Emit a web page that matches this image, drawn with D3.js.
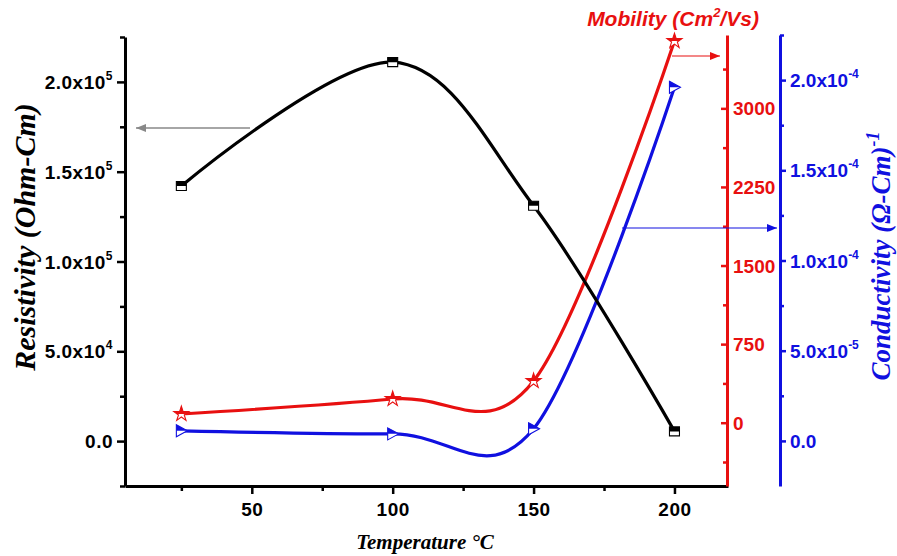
<!DOCTYPE html>
<html><head><meta charset="utf-8">
<script src="https://cdn.jsdelivr.net/npm/d3@7"></script>
<style>body{margin:0;background:#fff}svg{display:block}</style>
</head><body>
<svg id="c" width="897" height="556"></svg>
<script>
// ---- data ----
const temperature = [25, 100, 150, 200];
const resistivity = [142000, 211000, 131000, 5400];
const mobility = [83, 226, 398, 3642];
const conductivity = [5.6e-6, 3.9e-6, 6.7e-6, 1.96e-4];
const xTicks = [50, 100, 150, 200];
const resTicks = [0, 50000, 100000, 150000, 200000];
const resTickLabels = [["0.0", ""], ["5.0x10", "4"], ["1.0x10", "5"], ["1.5x10", "5"], ["2.0x10", "5"]];
const mobTicks = [0, 750, 1500, 2250, 3000];
const condTicks = [0, 5e-5, 1e-4, 1.5e-4, 2e-4];
const condTickLabels = [["0.0", ""], ["5.0x10", "-5"], ["1.0x10", "-4"], ["1.5x10", "-4"], ["2.0x10", "-4"]];

const RED = "#e81010", BLUE = "#1010e0";
const svg = d3.select("#c");
const x = d3.scaleLinear().domain([5, 219]).range([125, 728]);
const yL = d3.scaleLinear().domain([-25000, 225000]).range([486, 37]);
const yR = d3.scaleLinear().domain([-604, 3700]).range([486, 35]);
const yB = d3.scaleLinear().domain([-2.5e-5, 2.25e-4]).range([486, 35]);

const sans = "'Liberation Sans', Arial, sans-serif";
const serif = "'Liberation Serif', 'Times New Roman', serif";
const TF = 19;

const defs = svg.append("defs");
defs.append("clipPath").attr("id", "tophalf").append("rect")
  .attr("x", -20).attr("y", -20).attr("width", 40).attr("height", 20);

// ---- axes ----
const gx = svg.append("g").attr("transform", "translate(0,486)");
gx.call(d3.axisBottom(x).tickValues(xTicks).tickSize(8).tickFormat(d3.format("d")).tickSizeOuter(0));
gx.append("g").call(d3.axisBottom(x).tickValues([25, 75, 125, 175]).tickSize(5).tickFormat("").tickSizeOuter(0))
  .select(".domain").remove();
gx.selectAll(".domain").attr("stroke", "#000").attr("stroke-width", 3);
gx.selectAll("line").attr("stroke", "#000").attr("stroke-width", 2.5);
gx.selectAll("text").attr("font-family", sans).attr("font-weight", "bold").attr("font-size", TF)
  .attr("fill", "#000").attr("y", 30).attr("dy", 0).attr("letter-spacing", 0.5);

const gl = svg.append("g").attr("transform", "translate(125,0)");
gl.call(d3.axisLeft(yL).tickValues(resTicks).tickSize(8).tickFormat("").tickSizeOuter(0));
gl.append("g").call(d3.axisLeft(yL).tickValues([-25000, 25000, 75000, 125000, 175000, 225000]).tickSize(5).tickFormat("").tickSizeOuter(0))
  .select(".domain").remove();
gl.selectAll(".domain").attr("stroke", "#000").attr("stroke-width", 3);
gl.selectAll("line").attr("stroke", "#000").attr("stroke-width", 2.5);
resTicks.forEach((v, i) => {
  const t = gl.append("text").attr("x", -12).attr("y", yL(v) + 7).attr("text-anchor", "end")
    .attr("font-family", sans).attr("font-weight", "bold").attr("font-size", TF).attr("fill", "#000")
    .attr("letter-spacing", 0.5);
  t.append("tspan").text(resTickLabels[i][0]);
  if (resTickLabels[i][1]) t.append("tspan").attr("dy", -9).attr("font-size", 12).text(resTickLabels[i][1]);
});

const gr = svg.append("g").attr("transform", "translate(727,0)");
gr.call(d3.axisLeft(yR).tickValues(mobTicks).tickSize(6).tickFormat("").tickSizeOuter(0));
gr.append("g").call(d3.axisLeft(yR).tickValues([-375, 375, 1125, 1875, 2625, 3375]).tickSize(4).tickFormat("").tickSizeOuter(0))
  .select(".domain").remove();
gr.selectAll(".domain").attr("stroke", RED).attr("stroke-width", 3);
gr.selectAll("line").attr("stroke", RED).attr("stroke-width", 2.5);
mobTicks.forEach(v => {
  gr.append("text").attr("x", 6).attr("y", yR(v) + 7).attr("text-anchor", "start")
    .attr("font-family", sans).attr("font-weight", "bold")
    .attr("font-size", TF).attr("fill", RED).text(v);
});

const gb = svg.append("g").attr("transform", "translate(780,0)");
gb.call(d3.axisRight(yB).tickValues(condTicks).tickSize(6).tickFormat("").tickSizeOuter(0));
gb.append("g").call(d3.axisRight(yB).tickValues([2.5e-5, 7.5e-5, 1.25e-4, 1.75e-4, 2.25e-4]).tickSize(4).tickFormat("").tickSizeOuter(0))
  .select(".domain").remove();
gb.selectAll(".domain").attr("stroke", BLUE).attr("stroke-width", 3);
gb.selectAll("line").attr("stroke", BLUE).attr("stroke-width", 2.5);
condTicks.forEach((v, i) => {
  const t = gb.append("text").attr("x", 10).attr("y", yB(v) + 7).attr("text-anchor", "start")
    .attr("font-family", sans).attr("font-weight", "bold").attr("font-size", TF).attr("fill", BLUE);
  t.append("tspan").text(condTickLabels[i][0]);
  if (condTickLabels[i][1]) t.append("tspan").attr("dy", -9).attr("font-size", 12).text(condTickLabels[i][1]);
});

// ---- titles ----
svg.append("text").attr("transform", "translate(35,237) rotate(-90)").attr("text-anchor", "middle")
  .attr("font-family", serif).attr("font-weight", "bold").attr("font-style", "italic").attr("font-size", 30)
  .attr("fill", "#000").text("Resistivity (Ohm-Cm)");
svg.append("text").attr("x", 425).attr("y", 549).attr("text-anchor", "middle")
  .attr("font-family", serif).attr("font-weight", "bold").attr("font-style", "italic").attr("font-size", 21)
  .attr("fill", "#000").text("Temperature °C");
const mt = svg.append("text").attr("x", 673).attr("y", 26).attr("text-anchor", "middle")
  .attr("font-family", sans).attr("font-weight", "bold").attr("font-style", "italic").attr("font-size", 21)
  .attr("fill", RED);
mt.append("tspan").text("Mobility (Cm");
mt.append("tspan").attr("dy", -9).attr("font-size", 13).text("2");
mt.append("tspan").attr("dy", 9).text("/Vs)");
const ct = svg.append("text").attr("transform", "translate(890,256) rotate(-90)").attr("text-anchor", "middle")
  .attr("font-family", serif).attr("font-weight", "bold").attr("font-style", "italic").attr("font-size", 27)
  .attr("fill", BLUE);
ct.append("tspan").text("Conductivity (Ω-Cm)");
ct.append("tspan").attr("dy", -11).attr("font-size", 18).text("-1");

// ---- arrows ----
function arrow(x1, x2, yv, col, w) {
  svg.append("line").attr("x1", x1).attr("x2", x2).attr("y1", yv).attr("y2", yv)
    .attr("stroke", col).attr("stroke-width", w);
  const dir = x2 > x1 ? 1 : -1;
  svg.append("path").attr("d", `M${x2},${yv} L${x2 - dir * 10},${yv - 4} L${x2 - dir * 10},${yv + 4} Z`).attr("fill", col);
}
arrow(250, 136, 128, "#888", 1.3);
arrow(672, 720, 56, RED, 1.2);
arrow(622, 777, 228, BLUE, 1.2);

// ---- series ----
const series = [
  {vals: conductivity, y: yB, col: BLUE, sym: "tri"},
  {vals: mobility, y: yR, col: RED, sym: "star"},
  {vals: resistivity, y: yL, col: "#000", sym: "sq"}
];
series.forEach(s => {
  const pts = temperature.map((t, i) => [x(t), s.y(s.vals[i])]);
  svg.append("path").attr("d", d3.line().curve(d3.curveCardinal.tension(0))(pts))
    .attr("fill", "none").attr("stroke", s.col).attr("stroke-width", 3.2);
});
series.forEach(s => {
  temperature.forEach((t, i) => {
    const g = svg.append("g").attr("transform", `translate(${x(t)},${s.y(s.vals[i])})`);
    let d;
    if (s.sym === "sq") d = "M-5,-4.5 H5 V4.5 H-5 Z";
    else if (s.sym === "star") d = d3.symbol(d3.symbolStar, 70)();
    else d = "M-5,-6 L6,0 L-5,6 Z";
    g.append("path").attr("d", d).attr("fill", "#fff").attr("stroke", s.col).attr("stroke-width", 1.1);
    g.append("path").attr("d", d).attr("fill", s.col).attr("clip-path", "url(#tophalf)");
  });
});
</script>
</body></html>
